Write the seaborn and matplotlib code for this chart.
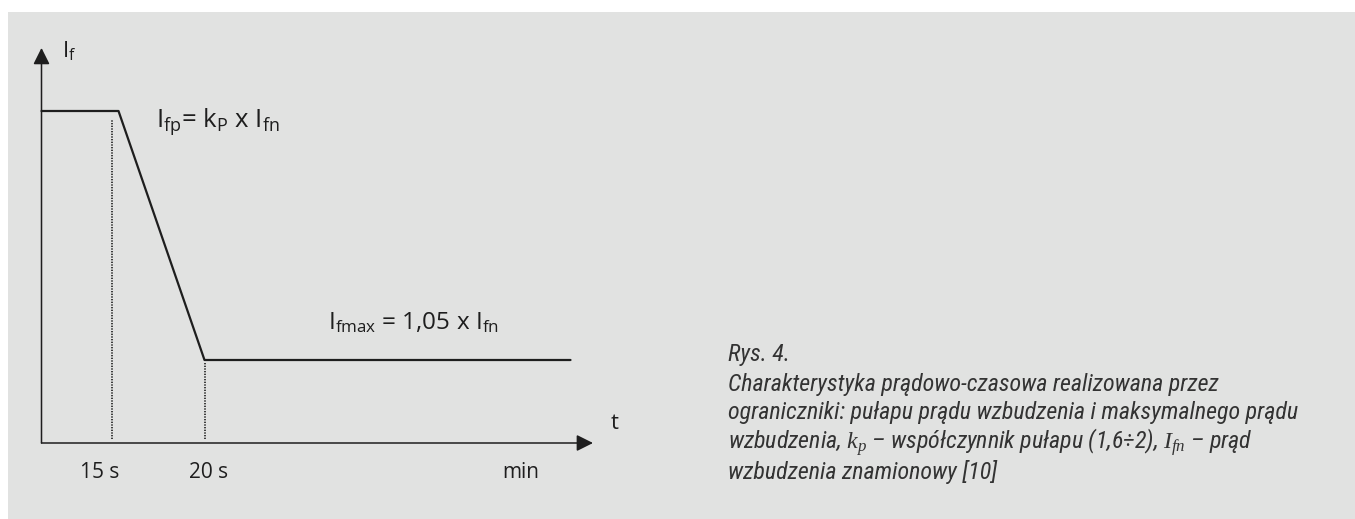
import seaborn as sns
import matplotlib.pyplot as plt
import pandas as pd
from matplotlib import font_manager
from matplotlib.patches import Rectangle

# charakterystyka pradowo-czasowa (jednostki umowne, schemat)
t_knots = [0, 7.7, 16.3, 52.9]
i_f = [4.0, 4.0, 1.0, 1.0]
dot_t = [7.05, 16.35]
dot_top = [3.9, 0.96]
tick_pos = [5.85, 16.75, 47.95]
tick_labels = ['15 s', '20 s', 'min']
t_end = 55.15
i_end = 4.76

caption_lines = [
    'Rys. 4.',
    'Charakterystyka prądowo-czasowa realizowana przez',
    'ograniczniki: pułapu prądu wzbudzenia i maksymalnego prądu',
    r'wzbudzenia, $k_p$ – współczynnik pułapu (1,6÷2), $I_{fn}$ – prąd',
    'wzbudzenia znamionowy [10]',
]
caption_y = [355, 385, 413, 442, 472]   # px od gory

sns.set_theme(style='white')
plt.rcParams['font.family'] = ['Open Sans', 'DejaVu Sans']
plt.rcParams['mathtext.fontset'] = 'custom'
plt.rcParams['mathtext.rm'] = 'Open Sans'
plt.rcParams['mathtext.it'] = 'Liberation Serif:italic'
plt.rcParams['mathtext.bf'] = 'Open Sans:bold'

# waska kursywa do podpisu, jesli jest
cap_font = 'Roboto'
for name in ['Liberation Sans Narrow', 'Roboto Condensed']:
    try:
        font_manager.findfont(name, fallback_to_default=False)
        cap_font = name
        break
    except ValueError:
        pass

ink = '#1e1e1e'
bg = '#e1e2e1'

fig = plt.figure(figsize=(13.55, 5.19), dpi=100)
fig.patch.set_facecolor('white')
fig.patches.append(Rectangle((8 / 1355, 0), 1, 1 - 12 / 519, transform=fig.transFigure,
                             facecolor=bg, edgecolor='none', zorder=-10))

ax = fig.add_axes([0, 0, 1, 1])
ax.set_axis_off()
ax.patch.set_alpha(0)
ax.set_zorder(1)
# 1 jednostka t = 10 px, 1 jednostka I = 83 px
ax.set_xlim(-4.15, 131.35)
ax.set_ylim(-(519 - 443) / 83, 443 / 83)

df = pd.DataFrame({'t': t_knots, 'I': i_f})
sns.lineplot(data=df, x='t', y='I', color=ink, lw=1.6, sort=False, ax=ax)

ax.vlines(dot_t, 0.05, dot_top, colors=ink, lw=1.2, linestyles=(0, (0.8, 0.8)))

arrow = dict(arrowstyle='-|>,head_length=0.5,head_width=0.25', color=ink, lw=1.1,
             shrinkA=0, shrinkB=0, mutation_scale=20)
ax.annotate('', xy=(t_end, 0), xytext=(0, 0), arrowprops=arrow)
ax.annotate('', xy=(0, i_end), xytext=(0, 0), arrowprops=arrow)

ax.text(2.0, 4.72, r'$\mathrm{I_f}$', fontsize=16, color=ink, va='center')
ax.text(11.45, 3.87, r'$\mathrm{I_{fp}}$= k$\mathrm{_P}$ x $\mathrm{I_{fn}}$',
        fontsize=18.5, color=ink, va='center')
ax.text(28.7, 1.45, r'$\mathrm{I_{fmax}}$ = 1,05 x $\mathrm{I_{fn}}$',
        fontsize=17.5, color=ink, va='center')
ax.text(57.35, 0.24, 't', fontsize=16, color=ink, va='center', ha='center')
for x, lab in zip(tick_pos, tick_labels):
    ax.text(x, -0.35, lab, fontsize=15, color=ink, va='center', ha='center')

cap_size = 17.3 if cap_font != 'Roboto' else 15
for y, line in zip(caption_y, caption_lines):
    ax.text(68.65, (443 - y) / 83, line, fontsize=cap_size, color='#333333', va='center',
            style='italic', family=[cap_font, 'DejaVu Sans'])

fig.savefig('out.png', dpi=100, facecolor=fig.get_facecolor())
